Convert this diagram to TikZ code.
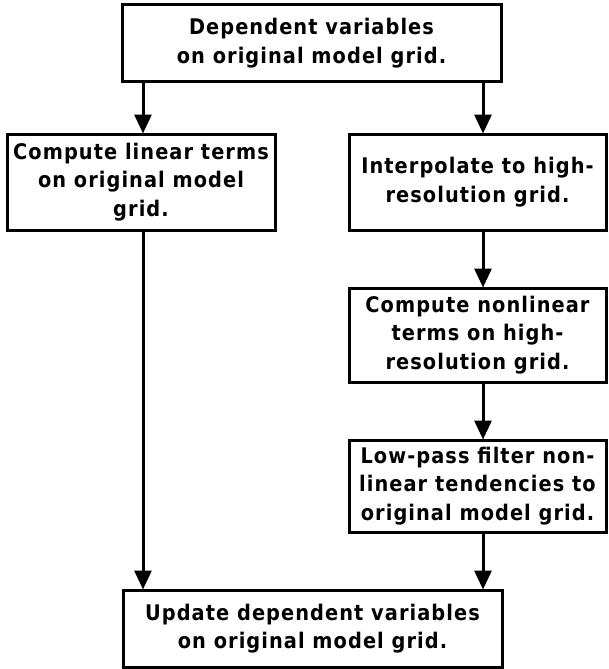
\documentclass[tikz,border=0pt]{standalone}
\usepackage{fontspec}
\setmainfont{DejaVu Sans Condensed}[BoldFont={DejaVu Sans Condensed Bold}, LetterSpace=5]
\usetikzlibrary{arrows.meta}
\begin{document}
\begin{tikzpicture}[x=1pt,y=-1pt,
  box/.style={draw, line width=3pt, align=center, inner sep=0pt,
    font=\fontsize{21.5}{28.5}\selectfont\bfseries},
  arr/.style={line width=3pt, -{Triangle[length=19pt,width=17pt]}, shorten >=-1pt}]
\useasboundingbox (0,0) rectangle (609,669);
\node[box, minimum width=379pt, minimum height=76pt] (top) at (311.5,43) {Dependent variables\\on original model grid.};
\node[box, minimum width=268pt, minimum height=96pt] (left) at (141,182) {Compute linear terms\\on original model\\grid.};
\node[box, minimum width=257pt, minimum height=96pt] (right) at (477.5,182) {Interpolate to high-\\resolution grid.};
\node[box, minimum width=257pt, minimum height=94pt] (nonlin) at (477.5,335) {Compute nonlinear\\terms on high-\\resolution grid.};
\node[box, minimum width=257pt, minimum height=92pt] (lowpass) at (477.5,486) {Low-pass filter non-\\linear tendencies to\\original model grid.};
\node[box, minimum width=379pt, minimum height=77pt] (bottom) at (312.5,628.5) {Update dependent variables\\on original model grid.};
\coordinate (cl) at (143,0);
\coordinate (cr) at (483,0);
\draw[arr] (top.south -| cl) -- (left.north -| cl);
\draw[arr] (top.south -| cr) -- (right.north -| cr);
\draw[arr] (right.south -| cr) -- (nonlin.north -| cr);
\draw[arr] (nonlin.south -| cr) -- (lowpass.north -| cr);
\draw[arr] (left.south -| cl) -- (bottom.north -| cl);
\draw[arr] (lowpass.south -| cr) -- (bottom.north -| cr);
\end{tikzpicture}
\end{document}
